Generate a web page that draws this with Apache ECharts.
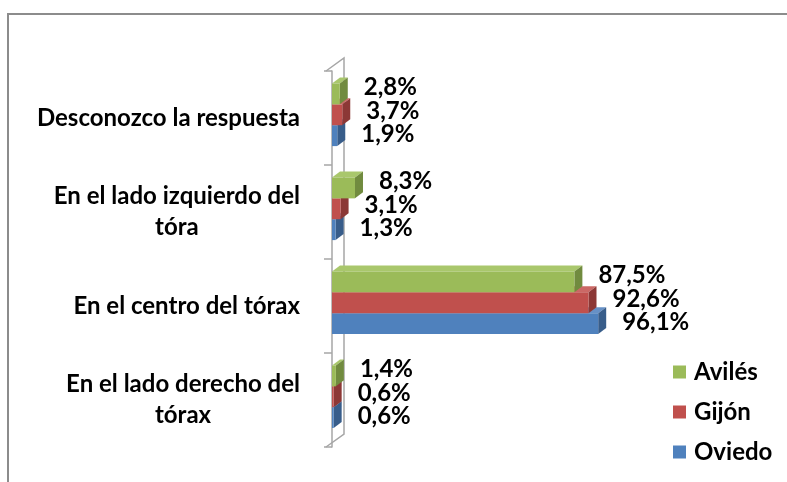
<!DOCTYPE html>
<html>
<head>
<meta charset="utf-8">
<script src="https://cdn.jsdelivr.net/npm/echarts@6/dist/echarts.min.js"></script>
<style>
  html, body { margin: 0; padding: 0; background: #fff; }
  #chart { width: 787px; height: 482px; }
</style>
</head>
<body>
<div id="chart"></div>
<script>
var categories = [
   'Desconozco la respuesta',
   'En el lado izquierdo del\ntóra',
   'En el centro del tórax',
   'En el lado derecho del\ntórax'
];
var seriesNames = ['Avilés', 'Gijón', 'Oviedo'];
var aviles = [2.8, 8.3, 87.5, 1.4];
var gijon = [3.7, 3.1, 92.6, 0.6];
var oviedo = [1.9, 1.3, 96.1, 0.6];

// front, top, side colours per series
var colors = {
   'Avilés': ['#9BBB59', '#A9C76C', '#718B3F'],
   'Gijón': ['#C0504D', '#CB6865', '#8C3836'],
   'Oviedo': ['#4F81BD', '#6690C6', '#385D8A']
};
var slots = { 'Avilés': 0, 'Gijón': 1, 'Oviedo': 2 };
var labelShift = { 'Avilés': -7, 'Gijón': -4, 'Oviedo': -1 };

var FONT = 'Lato, "Open Sans", sans-serif';
var FS = 24;
var DX = 8, DY = 6;

var fmt = function(v) {
   return v.toFixed(1).replace('.', ',') + '%';
};

var makeRender = function(name) {
   return function(params, api) {
      var v = api.value(0);
      var c = api.value(1);
      var p0 = api.coord([0, c]);
      var p1 = api.coord([v, c]);
      var band = api.size([0, 1])[1];
      var h = band * 0.222;
      var y0 = p0[1] - band * 0.367 + slots[name] * h;
      var x0 = p0[0], x1 = p1[0];
      var col = colors[name];
      return {
         type: 'group',
         children: [{
            type: 'polygon',
            shape: { points: [[x0, y0], [x0 + DX, y0 - DY], [x1 + DX, y0 - DY], [x1, y0]] },
            style: { fill: col[1] }
         }, {
            type: 'polygon',
            shape: { points: [[x1, y0], [x1 + DX, y0 - DY], [x1 + DX, y0 + h - DY], [x1, y0 + h]] },
            style: { fill: col[2] }
         }, {
            type: 'rect',
            shape: { x: x0, y: y0, width: x1 - x0, height: h },
            style: { fill: col[0] }
         }, {
            type: 'text',
            x: x1 + DX + 16,
            y: y0 + h / 2 + labelShift[name],
            style: {
               text: fmt(v),
               fill: '#000',
               font: 'bold ' + FS + 'px ' + FONT,
               verticalAlign: 'middle',
               align: 'left'
            }
         }]
      };
   };
};

var toData = function(arr) {
   var out = [];
   for (var i = 0; i < arr.length; i++) {
      out.push([arr[i], i]);
   }
   return out;
};

var barSeries = function(name, arr) {
   return {
      name: name,
      type: 'custom',
      renderItem: makeRender(name),
      encode: { x: 0, y: 1 },
      itemStyle: { color: colors[name][0] },
      data: toData(arr)
   };
};

var wallSeries = {
   type: 'custom',
   silent: true,
   data: [[0, 0]],
   encode: { x: 0, y: 1 },
   renderItem: function(params, api) {
      var cs = params.coordSys;
      var lx = cs.x - 6, top = cs.y, bot = cs.y + cs.height;
      var bx = lx + 18, dy = 13;
      return {
         type: 'polyline',
         shape: { points: [[lx, top], [bx, top - dy], [bx, bot - dy], [lx, bot]] },
         style: { stroke: '#A6A6A6', lineWidth: 1.5, fill: null }
      };
   }
};

var chart = echarts.init(document.getElementById('chart'));
chart.setOption({
   animation: false,
   textStyle: { fontFamily: FONT },
   graphic: [{
      type: 'rect',
      shape: { x: 8, y: 14, width: 900, height: 600 },
      style: { fill: null, stroke: '#8C8C8C', lineWidth: 2 },
      z: -10
   }],
   grid: { left: 332, right: 178, top: 71, bottom: 35 },
   legend: {
      data: seriesNames,
      orient: 'vertical',
      left: 673,
      top: 360,
      padding: 0,
      icon: 'rect',
      itemWidth: 13,
      itemHeight: 13,
      itemGap: 16,
      textStyle: { fontSize: FS, fontWeight: 'bold', color: '#000', fontFamily: FONT, lineHeight: 24, padding: [0, 0, 0, 3] }
   },
   xAxis: { type: 'value', min: 0, max: 100, show: false },
   yAxis: {
      type: 'category',
      data: categories,
      inverse: true,
      offset: 6,
      axisLine: { show: true, lineStyle: { color: '#A6A6A6', width: 1.5 } },
      axisTick: { show: true, length: 8, lineStyle: { color: '#A6A6A6', width: 1.5 } },
      splitLine: { show: false },
      axisLabel: {
         margin: 26,
         color: '#000',
         formatter: function(val) {
            return val.split('\n').map(function(l) { return '{c|' + l + '}'; }).join('\n');
         },
         rich: {
            c: { align: 'center', fontSize: FS, fontWeight: 'bold', fontFamily: FONT, color: '#000', lineHeight: 31 }
         }
      }
   },
   series: [
      wallSeries,
      barSeries('Oviedo', oviedo),
      barSeries('Gijón', gijon),
      barSeries('Avilés', aviles)
   ]
});
</script>
</body>
</html>
